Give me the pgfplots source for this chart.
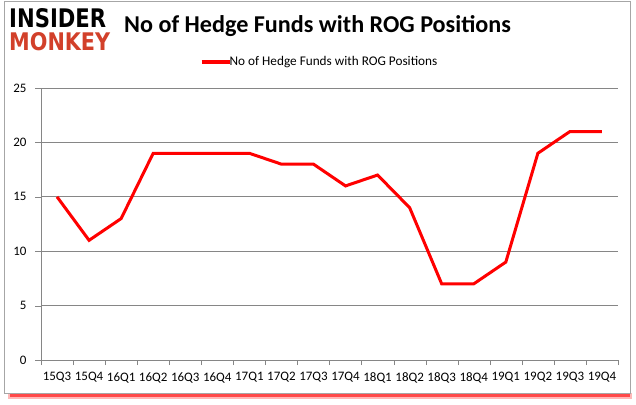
\documentclass[border=0pt]{standalone}
\usepackage{pgfplots}
\pgfplotsset{compat=1.18}
\usepackage{fontspec}
\usepackage{graphicx}
\setmainfont{Carlito}
\newfontfamily\logofont{DejaVu Sans}
\definecolor{imred}{RGB}{210,64,42}
\definecolor{gridgray}{RGB}{134,134,134}
\begin{document}
\begin{tikzpicture}
\useasboundingbox (0bp,0bp) rectangle (636bp,405bp);
% page and frame
\fill[white] (0bp,0bp) rectangle (636bp,405bp);
\fill[red!80,opacity=0.35] (8bp,6bp) rectangle (632bp,12bp);
\fill[red,opacity=0.6] (10bp,8bp) rectangle (630bp,11bp);
\draw[gray!70,line width=0.8pt] (4bp,12bp) rectangle (630bp,404bp);
% logo
\node[anchor=north west,inner sep=0] at (9bp,397bp) {\resizebox{97bp}{19bp}{\logofont\bfseries INSIDER}};
\node[anchor=north west,inner sep=0] at (9bp,373bp) {\resizebox{101bp}{18bp}{\logofont\bfseries\color{imred}MONKEY}};
% title
\node[anchor=base west,inner sep=0] at (124bp,372bp) {\fontsize{24.25}{26}\selectfont\bfseries No of Hedge Funds with ROG Positions};
\begin{axis}[
  at={(41bp,45bp)}, anchor=south west,
  scale only axis, width=577bp, height=272bp,
  xmin=-0.5, xmax=17.5, ymin=0, ymax=25,
  xtick={0,...,17},
  xticklabels={15Q3,15Q4,16Q1,16Q2,16Q3,16Q4,17Q1,17Q2,17Q3,17Q4,18Q1,18Q2,18Q3,18Q4,19Q1,19Q2,19Q3,19Q4},
  minor xtick={-0.5,0.5,...,17.5},
  xtick style={draw=none},
  minor x tick style={draw=gridgray},
  ytick style={draw=gridgray},
  major tick length=6bp,
  minor tick length=5bp,
  ytick={0,5,...,25},
  ymajorgrids, grid style={gridgray, line width=0.75pt},
  axis x line*=bottom, axis y line*=left,
  axis line style={gridgray, line width=0.75pt},
  x axis line style={-}, y axis line style={-},
  every tick label/.style={font=\fontsize{13}{14}\selectfont},
  /pgf/number format/assume math mode=true,
  xticklabel style={yshift=-3bp},
  yticklabel style={xshift=-5bp},
  tick align=outside,
  legend style={at={(0.5,1.0)}, anchor=center, xshift=-10bp, yshift=26bp, draw=none, fill=none,
    font=\fontsize{13.3}{14}\selectfont, legend cell align=left,
    /tikz/every even column/.append style={column sep=0pt}},
  legend image code/.code={\draw[#1, line width=4pt] (0bp,0bp) -- (28bp,0bp);},
  clip=false,
]
\addplot[red, line width=3bp] coordinates {
(0,15) (1,11) (2,13) (3,19) (4,19) (5,19) (6,19) (7,18) (8,18) (9,16)
(10,17) (11,14) (12,7) (13,7) (14,9) (15,19) (16,21) (17,21)};
\addlegendentry{\hspace{-4bp}No of Hedge Funds with ROG Positions}
\end{axis}
\end{tikzpicture}
\end{document}
